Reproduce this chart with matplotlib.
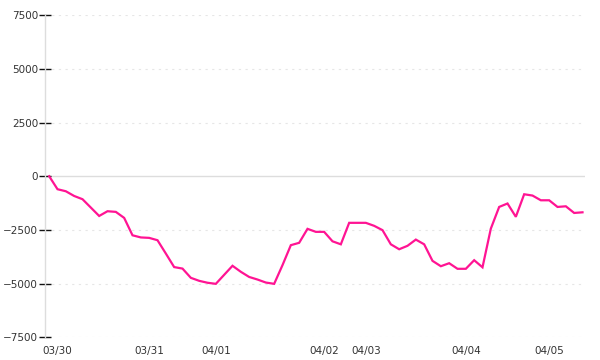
import matplotlib
matplotlib.use("Agg")
import matplotlib.pyplot as plt
import numpy as np

# sample index -> cumulative value
values = [0, -605, -700, -920, -1070, -1460, -1850, -1630, -1660, -1940,
          -2750, -2850, -2870, -2980, -3600, -4230, -4300, -4730, -4870, -4960,
          -5010, -4590, -4170, -4450, -4690, -4810, -4950, -5010, -4140, -3210,
          -3100, -2450, -2590, -2590, -3030, -3170, -2170, -2170, -2170, -2310,
          -2510, -3170, -3400, -3240, -2950, -3170, -3940, -4190, -4050, -4310,
          -4310, -3910, -4240, -2440, -1430, -1270, -1890, -840, -900, -1120,
          -1120, -1430, -1400, -1710, -1680]
x = np.arange(len(values))

# day labels sit on these sample indices
day_pos = [1, 12, 20, 33, 38, 50, 60]
day_labels = ["03/30", "03/31", "04/01", "04/02", "04/03", "04/04", "04/05"]

y_ticks = [-7500, -5000, -2500, 0, 2500, 5000, 7500]

fig = plt.figure(figsize=(6, 3.6), dpi=100)
ax = fig.add_axes([0.075, 0.063, 0.9, 0.895])

for t in y_ticks:
    if t == 0:
        ax.axhline(t, color="#dddddd", lw=1.0, zorder=1)
    else:
        ax.axhline(t, color="#e6e6e6", lw=0.8, ls=(0, (2, 4)), zorder=1)

ax.plot(x, values, color="#ff1493", lw=1.6, zorder=3, solid_joinstyle="miter")

ax.set_xlim(-0.5, 64.3)
ax.set_ylim(-7500, 7500)
ax.set_yticks(y_ticks)
ax.set_yticklabels([str(t).replace("-", "\u2212") for t in y_ticks])
ax.set_xticks(day_pos)
ax.set_xticklabels(day_labels)

for s in ["top", "right", "bottom"]:
    ax.spines[s].set_visible(False)
ax.spines["left"].set_color("#dddddd")
ax.spines["left"].set_linewidth(1.0)

ax.tick_params(axis="y", direction="inout", length=8, width=1, color="#111111",
               labelsize=7.5, labelcolor="#333333", pad=1)
ax.tick_params(axis="x", length=0, labelsize=7.5, labelcolor="#333333", pad=6)

fig.savefig("out.png", dpi=100)
